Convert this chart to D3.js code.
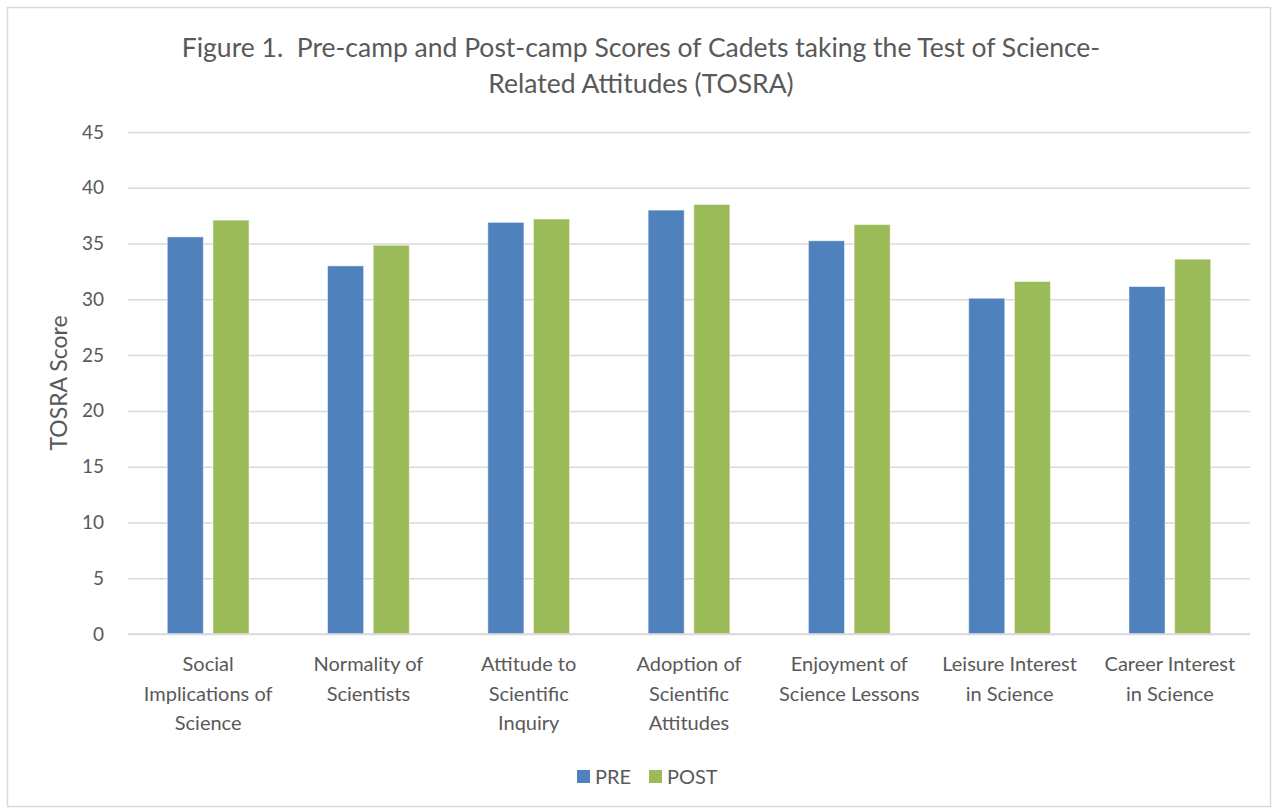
<!DOCTYPE html>
<html>
<head>
<meta charset="utf-8">
<script src="https://cdn.jsdelivr.net/npm/d3@7"></script>
<style>
  body { margin: 0; background: #fff; }
  svg text { font-family: Lato, "Open Sans", sans-serif; fill: #595959; }
</style>
</head>
<body>
<div id="chart"></div>
<script>
// chart data
const categories = [
  ["Social", "Implications of", "Science"],
  ["Normality of", "Scientists"],
  ["Attitude to", "Scientific", "Inquiry"],
  ["Adoption of", "Scientific", "Attitudes"],
  ["Enjoyment of", "Science Lessons"],
  ["Leisure Interest", "in Science"],
  ["Career Interest", "in Science"]
]
const seriesNames = ["PRE", "POST"]
const preScores = [35.6, 33.0, 36.9, 38.0, 35.25, 30.1, 31.15]
const postScores = [37.1, 34.85, 37.2, 38.5, 36.7, 31.6, 33.6]
const yTicks = [0, 5, 10, 15, 20, 25, 30, 35, 40, 45]
const titleLines = ["Figure 1.  Pre-camp and Post-camp Scores of Cadets taking the Test of Science-",
  "Related Attitudes (TOSRA)"]

const width = 1278
const height = 811
const plot = { left: 128, right: 1250, top: 132, bottom: 634 }
const colors = ["#4f81bd", "#9bbb59"]

const svg = d3.select('#chart').append('svg')
  .attr('width', width)
  .attr('height', height)

// outer frame
svg.append('rect')
  .attr('x', 7.5).attr('y', 7.5)
  .attr('width', width - 15).attr('height', height - 12)
  .attr('fill', '#fff')
  .attr('stroke', '#d9d9d9')
  .attr('stroke-width', 1.5)

const x0 = d3.scaleBand()
  .domain(d3.range(categories.length))
  .range([plot.left, plot.right])
  .paddingInner(0.49)
  .paddingOuter(0.245)

const x1 = d3.scaleBand()
  .domain(seriesNames)
  .range([0, x0.bandwidth()])
  .paddingInner(0.21)

const y = d3.scaleLinear()
  .domain([0, 45])
  .range([plot.bottom, plot.top])

// gridlines + y labels
const yAxis = d3.axisLeft(y).tickValues(yTicks).tickSize(-(plot.right - plot.left)).tickPadding(24)
const gy = svg.append('g')
  .attr('transform', 'translate(' + plot.left + ',0)')
  .call(yAxis)
gy.select('.domain').remove()
gy.selectAll('.tick line').attr('stroke', '#d9d9d9').attr('stroke-width', 1.5)
gy.selectAll('.tick text').style('font-size', '19px').attr('fill', '#595959')

// bars
const groups = svg.selectAll('.group')
  .data(categories)
  .enter().append('g')
  .attr('class', 'group')
  .attr('transform', (d, i) => 'translate(' + x0(i) + ',0)')

groups.selectAll('rect')
  .data((d, i) => [preScores[i], postScores[i]].map((v, k) => ({ key: seriesNames[k], value: v, k: k })))
  .enter().append('rect')
  .attr('x', d => x1(d.key))
  .attr('y', d => y(d.value))
  .attr('width', x1.bandwidth())
  .attr('height', d => y(0) - y(d.value))
  .attr('fill', d => colors[d.k])
  .attr('stroke', '#ffffff')
  .attr('stroke-opacity', 0.5)
  .attr('stroke-width', 1)

// category labels
groups.append('text')
  .attr('text-anchor', 'middle')
  .style('font-size', '20px')
  .selectAll('tspan')
  .data(d => d)
  .enter().append('tspan')
  .attr('x', x0.bandwidth() / 2)
  .attr('y', (d, i) => 671 + i * 29.5)
  .text(d => d)

// axis baseline
svg.append('line')
  .attr('x1', plot.left).attr('x2', plot.right)
  .attr('y1', y(0)).attr('y2', y(0))
  .attr('stroke', '#d9d9d9').attr('stroke-width', 1.5)

// title
svg.append('text')
  .attr('text-anchor', 'middle')
  .style('font-size', '26.5px')
  .style('white-space', 'pre')
  .selectAll('tspan')
  .data(titleLines)
  .enter().append('tspan')
  .attr('x', 641)
  .attr('y', (d, i) => 57 + i * 36)
  .text(d => d)

// y axis title
svg.append('text')
  .attr('transform', 'translate(67,' + ((plot.top + plot.bottom) / 2) + ') rotate(-90)')
  .attr('text-anchor', 'middle')
  .style('font-size', '23px')
  .text('TOSRA Score')

// legend
const legendX = [577, 649]
const legend = svg.selectAll('.legend')
  .data(seriesNames)
  .enter().append('g')
  .attr('class', 'legend')
  .attr('transform', (d, i) => 'translate(' + legendX[i] + ',770)')

legend.append('rect')
  .attr('width', 13).attr('height', 13)
  .attr('fill', (d, i) => colors[i])

legend.append('text')
  .attr('x', 18)
  .attr('y', 14)
  .style('font-size', '20px')
  .text(d => d)
</script>
</body>
</html>
